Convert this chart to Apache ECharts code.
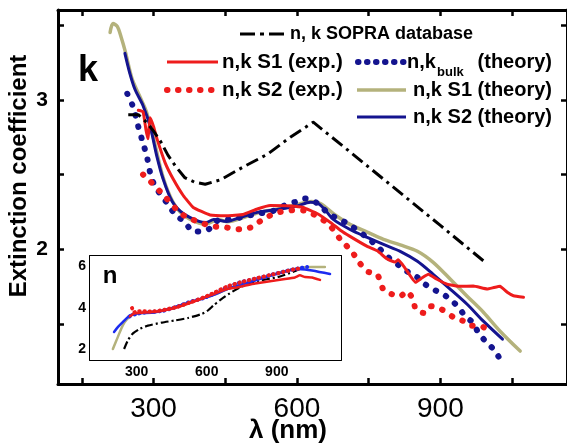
<!DOCTYPE html>
<html><head><meta charset="utf-8">
<script src="https://cdn.jsdelivr.net/npm/echarts@6/dist/echarts.min.js"></script>
<style>html,body{margin:0;padding:0;background:#fff}#c{width:567px;height:443px}</style>
</head><body><div id="c"></div><script>
// ---------- data ----------
var xTicks = [150, 300, 450, 600, 750, 900, 1050];
var xLabels = [300, 600, 900];
var kTicks = [1.5, 2, 2.5, 3, 3.5];
var kLabels = [2, 3];
var nTicks = [2, 3, 4, 5, 6];
var nLabels = [2, 4, 6];

// main panel: extinction coefficient k
var kSopra = [[247,2.90],[268,2.90],[285,2.85],[300,2.79],[315,2.72],[330,2.63],[345,2.56],[365,2.48],[385,2.45],[408,2.435],[440,2.465],[487,2.55],[538,2.635],[586,2.75],[634,2.85],[700,2.68],[800,2.42],[900,2.16],[994,1.913]];
var kS1exp = [[268,2.93],[278,2.92],[284,2.80],[288,2.74],[293,2.88],[300,2.82],[307,2.74],[324,2.58],[341,2.47],[362,2.36],[383,2.28],[418,2.23],[454,2.225],[487,2.233],[517,2.27],[544,2.293],[586,2.29],[613,2.28],[642,2.24],[670,2.18],[690,2.13],[711,2.087],[747,2.02],[768,1.99],[789,1.935],[805,1.915],[812,1.93],[825,1.88],[848,1.78],[862,1.81],[875,1.833],[893,1.80],[914,1.767],[942,1.753],[969,1.755],[998,1.735],[1012,1.745],[1025,1.753],[1040,1.713],[1053,1.69],[1074,1.68]];
var kS2exp = [[278,2.50],[293,2.455],[307,2.41],[324,2.35],[339,2.30],[352,2.25],[370,2.215],[397,2.18],[424,2.153],[446,2.15],[466,2.138],[487,2.133],[508,2.153],[528,2.20],[550,2.235],[571,2.255],[596,2.262],[614,2.26],[634,2.235],[653,2.20],[670,2.155],[690,2.07],[715,1.985],[732,1.905],[749,1.85],[768,1.833],[781,1.73],[799,1.70],[816,1.687],[830,1.72],[844,1.66],[848,1.60],[865,1.575],[879,1.62],[896,1.61],[914,1.577],[928,1.545],[947,1.523],[965,1.49],[983,1.49],[1000,1.46]];
var kBulk = [[245,3.04],[255,2.97],[261,2.91],[268,2.82],[278,2.71],[286,2.62],[293,2.51],[303,2.42],[314,2.37],[328,2.31],[345,2.235],[366,2.18],[383,2.12],[401,2.12],[418,2.14],[439,2.2],[456,2.2],[477,2.21],[498,2.225],[517,2.24],[544,2.25],[559,2.27],[579,2.30],[600,2.32],[617,2.34],[640,2.313],[659,2.26],[676,2.22],[694,2.193],[715,2.153],[749,2.073],[768,2.02],[790,1.95],[816,1.887],[833,1.847],[852,1.813],[868,1.767],[885,1.733],[906,1.70],[925,1.653],[938,1.613],[952,1.553],[967,1.513],[979,1.447],[994,1.387],[1009,1.34],[1021,1.287],[1032,1.233]];
var kS1th = [[209,3.45],[215,3.51],[224,3.49],[232,3.42],[241,3.32],[255,3.14],[270,3.03],[285,2.92],[300,2.74],[320,2.48],[340,2.32],[362,2.23],[395,2.175],[410,2.17],[435,2.2],[455,2.185],[490,2.215],[525,2.25],[560,2.27],[600,2.30],[630,2.32],[650,2.305],[680,2.23],[711,2.167],[747,2.115],[781,2.067],[816,2.03],[852,1.987],[885,1.913],[921,1.80],[956,1.687],[990,1.58],[1025,1.453],[1067,1.32]];
var kS2th = [[240,3.31],[250,3.18],[261,3.07],[278,2.96],[293,2.82],[307,2.62],[320,2.47],[339,2.32],[362,2.24],[395,2.187],[410,2.18],[426,2.2],[453,2.187],[481,2.213],[517,2.247],[559,2.267],[600,2.29],[628,2.315],[645,2.305],[660,2.26],[676,2.2],[711,2.133],[747,2.08],[781,2.033],[816,1.987],[852,1.92],[885,1.833],[921,1.733],[956,1.633],[990,1.52],[1030,1.40]];

// inset: refractive index n
var nSopra = [[246,2.03],[263,2.46],[284,2.78],[314,3.0],[348,3.15],[408,3.3],[464,3.4],[520,3.52],[580,3.72],[601,3.85],[627,4.1],[657,4.38],[712,4.8],[772,5.15],[820,5.3],[905,5.49],[969,5.73],[999,5.87]];
var nS1exp = [[271,3.6],[290,3.75],[330,3.78],[380,3.82],[430,3.92],[480,4.05],[540,4.28],[590,4.5],[640,4.72],[690,4.92],[734,5.0],[807,5.18],[878,5.3],[935,5.39],[978,5.47],[999,5.57],[1021,5.49],[1051,5.47],[1085,5.35]];
var nS2exp = [[280,4.0],[290,3.8],[306,3.85],[364,3.83],[421,3.92],[477,4.07],[537,4.3],[592,4.53],[635,4.75],[691,5.05],[750,5.25],[810,5.42],[870,5.58],[930,5.74],[978,5.87],[1000,5.9]];
var nBulk = [[270,3.6],[300,3.72],[350,3.8],[410,3.86],[470,4.05],[530,4.3],[593,4.5],[665,4.88],[734,5.2],[807,5.4],[878,5.6],[949,5.8],[1000,5.92],[1030,5.97]];
var nS1th = [[198,2.03],[219,2.6],[241,3.18],[258,3.45],[284,3.7],[314,3.76],[364,3.78],[421,3.9],[485,4.12],[558,4.38],[627,4.62],[700,4.96],[772,5.22],[841,5.46],[914,5.7],[986,5.9],[1050,5.97],[1106,5.97]];
var nS2th = [[203,2.85],[220,3.09],[241,3.33],[263,3.57],[284,3.71],[314,3.76],[364,3.77],[421,3.9],[485,4.12],[558,4.38],[627,4.62],[700,4.96],[772,5.2],[841,5.44],[914,5.68],[986,5.87],[1021,5.85],[1051,5.8],[1128,5.63]];

// ---------- styling ----------
var FF = 'Liberation Sans, Arial, sans-serif';
var RED = '#ee1c1c', NAVY = '#14148f', OLIVE = '#b4b27c', BRIGHTBLUE = '#1c2cf0';

function xAx(grid, pos, showLab, fs, lw, tl) {
  return {type:'value', gridIndex:grid, position:pos, min:100, max: grid===0?1165:1175,
    axisLine:{show:true, onZero:false, lineStyle:{color:'#000', width:lw}},
    axisTick:{show:true, inside:true, length:tl, customValues:xTicks, lineStyle:{color:'#000', width:lw-0.5}},
    axisLabel:{show:showLab, customValues:xLabels, color:'#000', fontSize:fs, fontFamily:FF,
      fontWeight: grid===0?'normal':'bold', margin: grid===0?11:5},
    splitLine:{show:false}};
}
function yAx(grid, pos, showLab, fs, lw, tl, mn, mx, ticks, labs) {
  return {type:'value', gridIndex:grid, position:pos, min:mn, max:mx,
    axisLine:{show:true, onZero:false, lineStyle:{color:'#000', width:lw}},
    axisTick:{show:true, inside:true, length:tl, customValues:ticks, lineStyle:{color:'#000', width:lw-0.5}},
    axisLabel:{show:showLab, customValues:labs, color:'#000', fontSize:fs, fontFamily:FF, fontWeight:'bold', margin: grid===0?10:4},
    splitLine:{show:false}};
}
function ser(data, xi, yi, color, width, type, cap, smooth, z) {
  return {type:'line', data:data, xAxisIndex:xi, yAxisIndex:yi, symbol:'none', smooth:smooth, z:z,
    lineStyle:{color:color, width:width, type:type, cap:cap||'butt', join:'round'}, silent:true, animation:false};
}
var DOT = [0.5, 11], DASHDOT = [13, 5, 3, 5];
var DOTS = [0.5, 4.5];

var chart = echarts.init(document.getElementById('c'), null, {renderer:'canvas'});
chart.setOption({
  backgroundColor:'#fff', animation:false,
  grid:[
    {left:58, top:10, width:510, height:374, show:false},
    {left:90, top:256, width:251, height:104, show:true, backgroundColor:'#fff', borderWidth:0, z:5}
  ],
  xAxis:[xAx(0,'bottom',true,28,3,6), xAx(0,'top',false,28,3,6), xAx(1,'bottom',true,14,2,4), xAx(1,'top',false,14,2,4)],
  yAxis:[yAx(0,'left',true,21,3,6,1.1,3.6,kTicks,kLabels), yAx(0,'right',false,21,3,6,1.1,3.6,kTicks,kLabels),
         yAx(1,'left',true,14,2,4,1.5,6.5,nTicks,nLabels), yAx(1,'right',false,14,2,4,1.5,6.5,nTicks,nLabels)],
  series:[
    ser(kS1th,0,0,OLIVE,3.5,'solid','round',0.3,2),
    ser(kS2th,0,0,NAVY,3,'solid','round',0.3,2),
    ser(kBulk,0,0,NAVY,6,DOT,'round',0.3,3),
    ser(kS2exp,0,0,RED,6,DOT,'round',0.2,3),
    ser(kS1exp,0,0,RED,3,'solid','round',0.1,4),
    ser(kSopra,0,0,'#000',3,DASHDOT,'butt',false,4),
    ser(nS1th,2,2,OLIVE,2.5,'solid','round',0.3,6),
    ser(nSopra,2,2,'#000',2.2,[8,3,2,3],'butt',0.2,6),
    ser(nS2th,2,2,BRIGHTBLUE,2.5,'solid','round',0.3,6),
    ser(nBulk,2,2,BRIGHTBLUE,4,DOTS,'round',0.3,6),
    ser(nS1exp,2,2,RED,2.5,'solid','round',0.1,7),
    ser(nS2exp,2,2,RED,4,DOTS,'round',0.2,7)
  ],
  graphic:[
    {type:'text', x:19, y:176, rotation:Math.PI/2, style:{text:'Extinction coefficient', fill:'#000', font:'bold 24px '+FF, align:'center', verticalAlign:'middle'}},
    {type:'text', x:288, y:431, style:{text:'λ (nm)', fill:'#000', font:'bold 26px '+FF, align:'center', verticalAlign:'middle'}},
    {type:'text', x:88, y:71, style:{text:'k', fill:'#000', font:'bold 36px '+FF, align:'center', verticalAlign:'middle'}},
    {type:'text', x:110, y:276, z:20, style:{text:'n', fill:'#000', font:'bold 24px '+FF, align:'center', verticalAlign:'middle'}},
    // legend samples
    {type:'line', shape:{x1:240,y1:34,x2:287,y2:34}, style:{stroke:'#000', lineWidth:3, lineDash:[15,5,4,5]}},
    {type:'line', shape:{x1:167,y1:62,x2:218,y2:62}, style:{stroke:RED, lineWidth:3}},
    {type:'line', shape:{x1:167,y1:90,x2:212,y2:90}, style:{stroke:RED, lineWidth:6, lineDash:[0.5,10.5], lineCap:'round'}},
    {type:'line', shape:{x1:358,y1:62,x2:404,y2:62}, style:{stroke:NAVY, lineWidth:6, lineDash:[0.5,8.5], lineCap:'round'}},
    {type:'line', shape:{x1:357,y1:90,x2:406,y2:90}, style:{stroke:OLIVE, lineWidth:3.5}},
    {type:'line', shape:{x1:357,y1:117,x2:406,y2:117}, style:{stroke:NAVY, lineWidth:3}},
    // legend texts
    {type:'text', x:290, y:34, style:{text:'n, k SOPRA database', fill:'#000', font:'bold 18px '+FF, verticalAlign:'middle'}},
    {type:'text', x:222, y:62, style:{text:'n,k S1 (exp.)', fill:'#000', font:'bold 20.5px '+FF, verticalAlign:'middle'}},
    {type:'text', x:222, y:90, style:{text:'n,k S2 (exp.)', fill:'#000', font:'bold 20.5px '+FF, verticalAlign:'middle'}},
    {type:'text', x:407, y:62, style:{text:'n,k', fill:'#000', font:'bold 20px '+FF, verticalAlign:'middle'}},
    {type:'text', x:437, y:72, style:{text:'bulk', fill:'#000', font:'bold 13px '+FF, verticalAlign:'middle'}},
    {type:'text', x:552, y:62, style:{text:'(theory)', fill:'#000', font:'bold 20px '+FF, align:'right', verticalAlign:'middle'}},
    {type:'text', x:552, y:90, style:{text:'n,k S1 (theory)', fill:'#000', font:'bold 20px '+FF, align:'right', verticalAlign:'middle'}},
    {type:'text', x:552, y:117, style:{text:'n,k S2 (theory)', fill:'#000', font:'bold 20px '+FF, align:'right', verticalAlign:'middle'}}
  ]
});
</script></body></html>
